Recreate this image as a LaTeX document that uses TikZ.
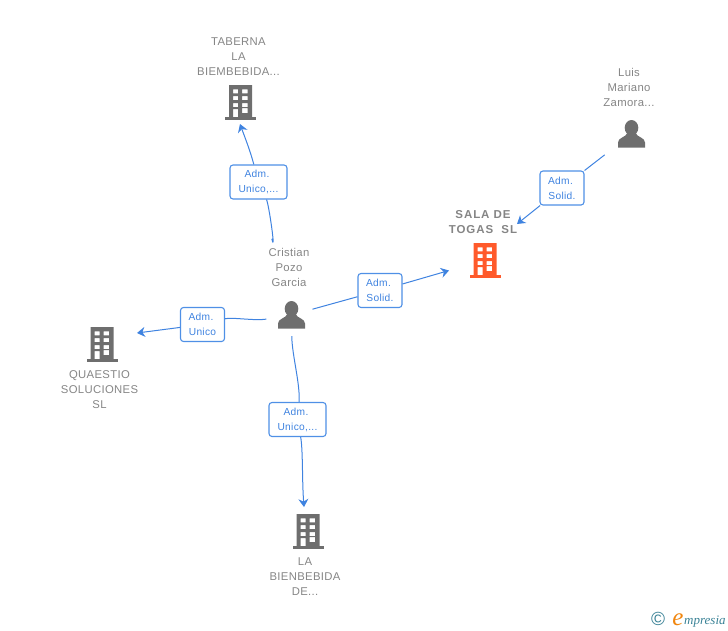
\documentclass[tikz,border=0pt]{standalone}
\usepackage{fontspec}
\setmainfont{Liberation Sans}
\newfontfamily\logofont{Liberation Serif}
\usetikzlibrary{arrows.meta}
\definecolor{cLink}{HTML}{3F83E0}
\definecolor{cBorder}{HTML}{4F90E6}
\definecolor{cName}{HTML}{858585}
\definecolor{cIcon}{HTML}{6E6E6E}
\definecolor{cMain}{HTML}{FF5A2B}
\definecolor{cLogo}{HTML}{3A8296}
\definecolor{cLogoE}{HTML}{F0860F}
\tikzset{
    tsName/.style={
        text=cName,
        font=\fontsize{11.3}{15}\selectfont\addfontfeatures{LetterSpace=3},
        align=center,
        inner sep=0pt},
    tsMainName/.style={
        tsName,
        font=\fontsize{11.5}{15}\selectfont\bfseries\addfontfeatures{LetterSpace=8}},
    tsBox/.style={
        rectangle,
        draw=cBorder,
        line width=1.1pt,
        rounded corners=3pt,
        fill=white,
        text=cLink,
        font=\fontsize{10.2}{15}\selectfont\addfontfeatures{LetterSpace=3},
        align=center,
        inner sep=0pt,
        execute at begin node={\rule{0pt}{10.4pt}},
        minimum height=34pt},
    tsLink/.style={
        draw=cLink,
        line width=1pt},
    tsArrow/.style={
        tsLink,
        -{Stealth[length=8pt,width=10pt]}},
    tsBldg/.style={
        rectangle,
        inner sep=0pt,
        minimum width=32pt,
        minimum height=36pt,
        path picture={
            \begin{scope}[shift={(path picture bounding box.center)}]
                \fill[#1,even odd rule] (-11.5,-17) rectangle (11.5,15)
                    (-7.5,-12.7) rectangle (-2.5,-8.7)
                    (1.5,-12.7) rectangle (7,-8.7)
                    (-7.5,-6) rectangle (-2.5,-2)
                    (1.5,-6) rectangle (7,-2)
                    (-7.5,1) rectangle (-2.5,5)
                    (1.5,1) rectangle (7,5)
                    (-7.5,7) rectangle (-2.5,15)
                    (1.5,6) rectangle (7,11);
                \fill[#1] (-15.5,15) rectangle (15.5,17.5);
            \end{scope}}},
    tsPerson/.style={
        rectangle,
        inner sep=0pt,
        minimum width=28pt,
        minimum height=28pt,
        path picture={
            \begin{scope}[shift={(path picture bounding box.center)}]
                \fill[cIcon] (0,-6.2) ellipse (6.8 and 7.8);
                \fill[cIcon] (-13.5,13.5) -- (-13.5,8.5)
                    .. controls (-13.5,3.5) and (-6,3.5) .. (-4,-1)
                    -- (4,-1)
                    .. controls (6,3.5) and (13.5,3.5) .. (13.5,8.5)
                    -- (13.5,13.5) -- cycle;
            \end{scope}}}
}

\begin{document}
\begin{tikzpicture}[x=1pt,y=-1pt]
    \useasboundingbox (0,0) rectangle (728,630);

    \node[tsBldg=cIcon] (taberna) at (240.5,102) {};
    \node[tsBldg=cIcon] (quaestio) at (102,344) {};
    \node[tsBldg=cIcon] (bienbebida) at (308,531) {};
    \node[tsBldg=cMain] (sala) at (485,260) {};
    \node[tsPerson] (cristian) at (291.5,315) {};
    \node[tsPerson] (luis) at (631.5,134) {};

    \node[tsName] (tabernaName) at (238.5,56.5) {TABERNA\\LA\\BIEMBEBIDA...};
    \node[tsName] (quaestioName) at (99.5,389.5) {QUAESTIO\\SOLUCIONES\\SL};
    \node[tsName] (bienbebidaName) at (305,576.5) {LA\\BIENBEBIDA\\DE...};
    \node[tsMainName] (salaName) at (483,222) {SALA DE\\TOGAS\ \ SL};
    \node[tsName] (cristianName) at (289,267.5) {Cristian\\Pozo\\Garcia};
    \node[tsName] (luisName) at (629,87.5) {Luis\\Mariano\\Zamora...};

    \coordinate (tabernaTip) at (240,124);
    \coordinate (quaestioTip) at (137,333);
    \coordinate (bienbebidaTip) at (304,507);
    \coordinate (salaTip) at (517,224);
    \coordinate (mainTip) at (449,270.5);

    \node[tsBox, minimum width=57pt] (boxTaberna) at (258.5,182) {Adm.\hspace*{3pt}\\Unico,...};
    \node[tsBox, minimum width=44pt] (boxQuaestio) at (202.5,324.5) {Adm.\hspace*{3pt}\\Unico};
    \node[tsBox, minimum width=57pt] (boxBienbebida) at (297.5,419.5) {Adm.\hspace*{3pt}\\Unico,...};
    \node[tsBox, minimum width=44pt] (boxMain) at (380,290.5) {Adm.\hspace*{3pt}\\Solid.};
    \node[tsBox, minimum width=44pt] (boxLuis) at (562,188) {Adm.\hspace*{3pt}\\Solid.};

    \draw[tsLink, shorten <=64pt] (cristian) .. controls (276,255) and (269,205) .. (boxTaberna);
    \draw[tsArrow] (boxTaberna) .. controls (250,150) and (244,135) .. (tabernaTip);
    \draw[tsLink, shorten <=11pt] (cristian) .. controls (255,321) and (232,317) .. (boxQuaestio);
    \draw[tsArrow] (boxQuaestio) -- (quaestioTip);
    \draw[tsLink, shorten <=7pt] (cristian) .. controls (292,355) and (300.5,385) .. (boxBienbebida);
    \draw[tsArrow] (boxBienbebida) .. controls (303,450) and (302,480) .. (bienbebidaTip);
    \draw[tsLink, shorten <=7pt] (cristian) -- (boxMain);
    \draw[tsArrow] (boxMain) -- (mainTip);
    \draw[tsLink, shorten <=16pt] (luis) -- (boxLuis);
    \draw[tsArrow] (boxLuis) -- (salaTip);

    \node[text=cLogo, font=\fontsize{19}{19}\selectfont, inner sep=0pt] (logoMark) at (658,618.5) {\textcopyright};
    \node[text=cLogoE, font=\logofont\itshape\fontsize{25}{25}\selectfont, inner sep=0pt, anchor=base] (logoE) at (678,625) {e};
    \node[text=cLogo, font=\logofont\itshape\fontsize{13}{15}\selectfont, inner sep=0pt, anchor=base west] (logoText) at (684,624) {mpresia};
\end{tikzpicture}
\end{document}
